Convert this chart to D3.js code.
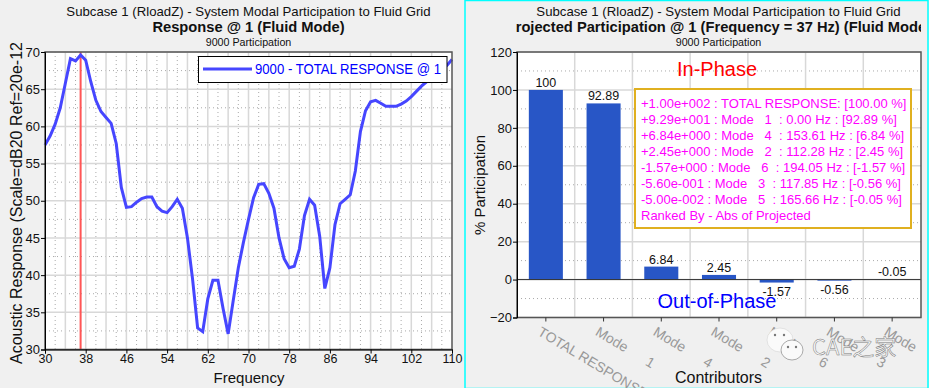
<!DOCTYPE html>
<html>
<head>
<meta charset="utf-8">
<script src="https://cdn.jsdelivr.net/npm/d3@7"></script>
<style>
  html, body { margin: 0; padding: 0; background: #f0f0f0; overflow: hidden; }
  text { font-family: "Liberation Sans", Arial, sans-serif; fill: #111; white-space: pre; }
</style>
</head>
<body>
<div id="chart"></div>
<script>
const freqs = d3.range(30, 111);
const response = [57.5, 58.7, 60.3, 62.5, 65.8, 69.1, 68.8, 69.6, 68.9, 66, 63.5, 62, 61.2, 60.4, 57.7,
  51.8, 49.1, 49.2, 49.8, 50.3, 50.5, 50.5, 49.2, 48.6, 48.4, 49.2, 50.2, 49, 45, 39.5, 32.9, 32.4, 36.8, 39.3, 39.3,
  35.5, 32.1, 36.6, 41, 44.4, 47.5, 50.4, 52.2, 52.3, 51, 49, 45, 42.2, 41, 41.2, 43.5, 48, 50.2, 49.4, 45.2,
  38.2, 41, 46.8, 49.6, 50.2, 50.8, 54, 59.3, 62.1, 63.3, 63.5, 63.1, 62.7, 62.7, 62.7, 63, 63.4, 64, 64.7, 65.4,
  66, 66.6, 67.2, 67.7, 68.2, 69];
const selectedFreq = 37;
const xTicks = [30, 38, 46, 54, 62, 70, 78, 86, 94, 102, 110];
const yTicks = [30, 35, 40, 45, 50, 55, 60, 65, 70];

const contributors = ['TOTAL RESPONSE', 'Mode      1', 'Mode      4', 'Mode      2', 'Mode      6', 'Mode      3', 'Mode      5'];
const participation = [100, 92.89, 6.84, 2.45, -1.57, -0.56, -0.05];
const barLabels = ['100', '92.89', '6.84', '2.45', '-1.57', '-0.56', '-0.05'];
const pctTicks = [-20, 0, 20, 40, 60, 80, 100, 120];
const rankLines = [
  '+1.00e+002 : TOTAL RESPONSE: [100.00 %]',
  '+9.29e+001 : Mode   1  : 0.00 Hz : [92.89 %]',
  '+6.84e+000 : Mode   4  : 153.61 Hz : [6.84 %]',
  '+2.45e+000 : Mode   2  : 112.28 Hz : [2.45 %]',
  '-1.57e+000 : Mode   6  : 194.05 Hz : [-1.57 %]',
  '-5.60e-001 : Mode   3  : 117.85 Hz : [-0.56 %]',
  '-5.00e-002 : Mode   5  : 165.66 Hz : [-0.05 %]',
  'Ranked By - Abs of Projected'
];

const svg = d3.select('#chart').append('svg').attr('width', 929).attr('height', 388);

function titles(g, cx, bold) {
  g.append('text').attr('x', cx).attr('y', 16).attr('text-anchor', 'middle').attr('font-size', 13.2)
    .text('Subcase 1 (RloadZ) - System Modal Participation to Fluid Grid');
  g.append('text').attr('x', cx).attr('y', 32).attr('text-anchor', 'middle').attr('font-size', 14.7)
    .attr('font-weight', 'bold').text(bold);
  g.append('text').attr('x', cx).attr('y', 46).attr('text-anchor', 'middle').attr('font-size', 10.7)
    .text('9000 Participation');
}

function frame(g, x0, y0, w, h) {
  g.append('rect').attr('x', x0).attr('y', y0).attr('width', w).attr('height', h)
    .attr('fill', 'none').attr('stroke', '#555').attr('stroke-width', 1.5);
}

// left: frequency response
const left = svg.append('g');
titles(left, 248.5, 'Response @ 1 (Fluid Mode)');

const x = d3.scaleLinear().domain([30, 110]).range([45, 452]);
const y = d3.scaleLinear().domain([30, 70]).range([349.5, 52]);

left.append('rect').attr('x', 45).attr('y', 52).attr('width', 407).attr('height', 297.5).attr('fill', '#fff');

left.append('g').selectAll('line').data(d3.range(32, 110, 4)).join('line')
  .attr('x1', d => x(d)).attr('x2', d => x(d)).attr('y1', 52).attr('y2', 349.5)
  .attr('stroke', '#aaa').attr('stroke-dasharray', '1,3');
left.append('g').selectAll('line').data(d3.range(32.5, 70, 5)).join('line')
  .attr('x1', 45).attr('x2', 452).attr('y1', d => y(d)).attr('y2', d => y(d))
  .attr('stroke', '#aaa').attr('stroke-dasharray', '1,3');
left.append('g').selectAll('line').data(d3.range(34, 110, 4)).join('line')
  .attr('x1', d => x(d)).attr('x2', d => x(d)).attr('y1', 52).attr('y2', 349.5)
  .attr('stroke', '#d8d8d8').attr('stroke-width', 1.5);
left.append('g').selectAll('line').data(yTicks).join('line')
  .attr('x1', 45).attr('x2', 452).attr('y1', d => y(d)).attr('y2', d => y(d))
  .attr('stroke', '#d8d8d8').attr('stroke-width', 1.5);

left.append('line').attr('x1', x(selectedFreq)).attr('x2', x(selectedFreq)).attr('y1', 52).attr('y2', 349.5)
  .attr('stroke', '#ff5555').attr('stroke-width', 2);

const line = d3.line().x((d, i) => x(freqs[i])).y(d => y(d));
left.append('path').datum(response).attr('d', line).attr('fill', 'none')
  .attr('stroke', '#4646ff').attr('stroke-width', 3);

frame(left, 45, 52, 407, 297.5);

const xAxisL = left.append('g').attr('transform', 'translate(0,349.5)')
  .call(d3.axisBottom(x).tickValues(xTicks).tickSize(4).tickPadding(1));
xAxisL.selectAll('text').attr('font-size', 12.5).style('font-family', '"Liberation Sans"');
const yAxisL = left.append('g').attr('transform', 'translate(45,0)')
  .call(d3.axisLeft(y).tickValues(yTicks).tickSize(4).tickPadding(1));
yAxisL.selectAll('text').attr('font-size', 13).style('font-family', '"Liberation Sans"');

left.append('text').attr('x', 249).attr('y', 383).attr('text-anchor', 'middle').attr('font-size', 15).text('Frequency');
left.append('text').attr('transform', 'translate(22,203) rotate(-90)').attr('text-anchor', 'middle')
  .attr('font-size', 16).text('Acoustic Response (Scale=dB20 Ref=20e-12');

// legend
left.append('rect').attr('x', 198.5).attr('y', 56.5).attr('width', 248.5).attr('height', 26)
  .attr('fill', '#fff').attr('stroke', '#000').attr('stroke-width', 1);
left.append('line').attr('x1', 203).attr('x2', 252).attr('y1', 69).attr('y2', 69)
  .attr('stroke', '#4646ff').attr('stroke-width', 3);
left.append('text').attr('x', 255).attr('y', 74).attr('font-size', 14.5).style('fill', '#0000ff')
  .attr('textLength', 186).attr('lengthAdjust', 'spacingAndGlyphs')
  .text('9000 - TOTAL RESPONSE @ 1');

// right: projected participation
const right = svg.append('g');
right.append('rect').attr('x', 465).attr('y', 0.5).attr('width', 463).attr('height', 388)
  .attr('fill', 'none').attr('stroke', '#00ffff').attr('stroke-width', 1.5);

right.append('defs').append('clipPath').attr('id', 'titleClip').append('rect')
  .attr('x', 516).attr('y', 0).attr('width', 405).attr('height', 388);
titles(right.append('g').attr('clip-path', 'url(#titleClip)'), 718.5, 'Projected Participation @ 1 (Frequency = 37 Hz) (Fluid Mode)');

const xb = d3.scaleBand().domain(contributors).range([517, 921]).paddingInner(0.41).paddingOuter(0.205);
const yb = d3.scaleLinear().domain([-20, 120]).range([317.5, 52]);

right.append('rect').attr('x', 517).attr('y', 52).attr('width', 404).attr('height', 265.5).attr('fill', '#fff');

right.append('g').selectAll('line').data(d3.range(-10, 120, 20)).join('line')
  .attr('x1', 517).attr('x2', 921).attr('y1', d => yb(d)).attr('y2', d => yb(d))
  .attr('stroke', '#aaa').attr('stroke-dasharray', '1,3');
right.append('g').selectAll('line').data(pctTicks).join('line')
  .attr('x1', 517).attr('x2', 921).attr('y1', d => yb(d)).attr('y2', d => yb(d))
  .attr('stroke', '#d8d8d8').attr('stroke-width', 1.5);
right.append('g').selectAll('line').data(contributors.slice(1)).join('line')
  .attr('x1', d => xb(d) - xb.step() * 0.205).attr('x2', d => xb(d) - xb.step() * 0.205)
  .attr('y1', 52).attr('y2', 317.5).attr('stroke', '#d8d8d8').attr('stroke-width', 1.5);

right.append('g').selectAll('rect').data(participation).join('rect')
  .attr('x', (d, i) => xb(contributors[i]))
  .attr('width', xb.bandwidth())
  .attr('y', d => yb(Math.max(d, 0)))
  .attr('height', d => Math.abs(yb(d) - yb(0)))
  .attr('fill', '#2856c6');

right.append('line').attr('x1', 517).attr('x2', 921).attr('y1', yb(0)).attr('y2', yb(0)).attr('stroke', '#333');

right.append('g').selectAll('text').data(participation).join('text')
  .attr('x', (d, i) => xb(contributors[i]) + xb.bandwidth() / 2)
  .attr('y', (d, i) => i === 6 ? yb(0) - 4 : d >= 0 ? yb(d) - 3 : yb(d) + 13)
  .attr('text-anchor', 'middle').attr('font-size', 12.5)
  .text((d, i) => barLabels[i]);

frame(right, 517, 52, 404, 265.5);

const yAxisR = right.append('g').attr('transform', 'translate(517,0)')
  .call(d3.axisLeft(yb).tickValues(pctTicks).tickSize(4).tickPadding(1));
yAxisR.selectAll('text').attr('font-size', 13).style('font-family', '"Liberation Sans"');

const xAxisR = right.append('g').attr('transform', 'translate(0,317.5)');
xAxisR.selectAll('line').data(contributors).join('line')
  .attr('x1', d => xb(d) + xb.bandwidth() / 2).attr('x2', d => xb(d) + xb.bandwidth() / 2)
  .attr('y1', 0).attr('y2', 4).attr('stroke', '#333');

// rotated contributor labels
xAxisR.selectAll('text').data(contributors).join('text')
  .attr('transform', d => `translate(${xb(d) + xb.bandwidth() / 2 - 9},17) rotate(31)`)
  .attr('font-size', 14).style('fill', '#999').text(d => d);

right.append('text').attr('x', 718.5).attr('y', 383).attr('text-anchor', 'middle').attr('font-size', 16).text('Contributors');
right.append('text').attr('transform', 'translate(485,185) rotate(-90)').attr('text-anchor', 'middle')
  .attr('font-size', 15).text('% Participation');

right.append('text').attr('x', 717).attr('y', 76).attr('text-anchor', 'middle').attr('font-size', 20).style('fill', '#ff0000').text('In-Phase');
right.append('text').attr('x', 717).attr('y', 308).attr('text-anchor', 'middle').attr('font-size', 20).style('fill', '#0000ff').text('Out-of-Phase');

// ranking box
right.append('rect').attr('x', 635).attr('y', 89).attr('width', 276).attr('height', 139)
  .attr('fill', '#fff').attr('stroke', '#e0b020').attr('stroke-width', 2);
right.append('g').selectAll('text').data(rankLines).join('text')
  .attr('x', 641).attr('y', (d, i) => 108 + i * 16)
  .attr('font-size', 13).style('fill', '#ff00ff')
  .text(d => d);

// watermark
const mark = svg.append('g');
mark.append('ellipse').attr('cx', 780).attr('cy', 340).attr('rx', 13).attr('ry', 12).attr('fill', '#fafafa').attr('stroke', '#ccc').attr('stroke-width', 0.5);
mark.append('ellipse').attr('cx', 792).attr('cy', 350).attr('rx', 11).attr('ry', 10).attr('fill', '#fafafa').attr('stroke', '#888').attr('stroke-width', 0.7);
mark.selectAll('circle').data([[775, 335], [784, 335], [788, 347], [796, 347]]).join('circle')
  .attr('cx', d => d[0]).attr('cy', d => d[1]).attr('r', 1.2).attr('fill', '#777');
mark.append('text').attr('x', 812).attr('y', 355).attr('font-size', 22)
  .style('font-family', '"Noto Sans CJK SC", "Liberation Sans"').style('fill', '#fafafa')
  .style('stroke', '#777').style('stroke-width', 0.5).text('CAE之家');
</script>
</body>
</html>
